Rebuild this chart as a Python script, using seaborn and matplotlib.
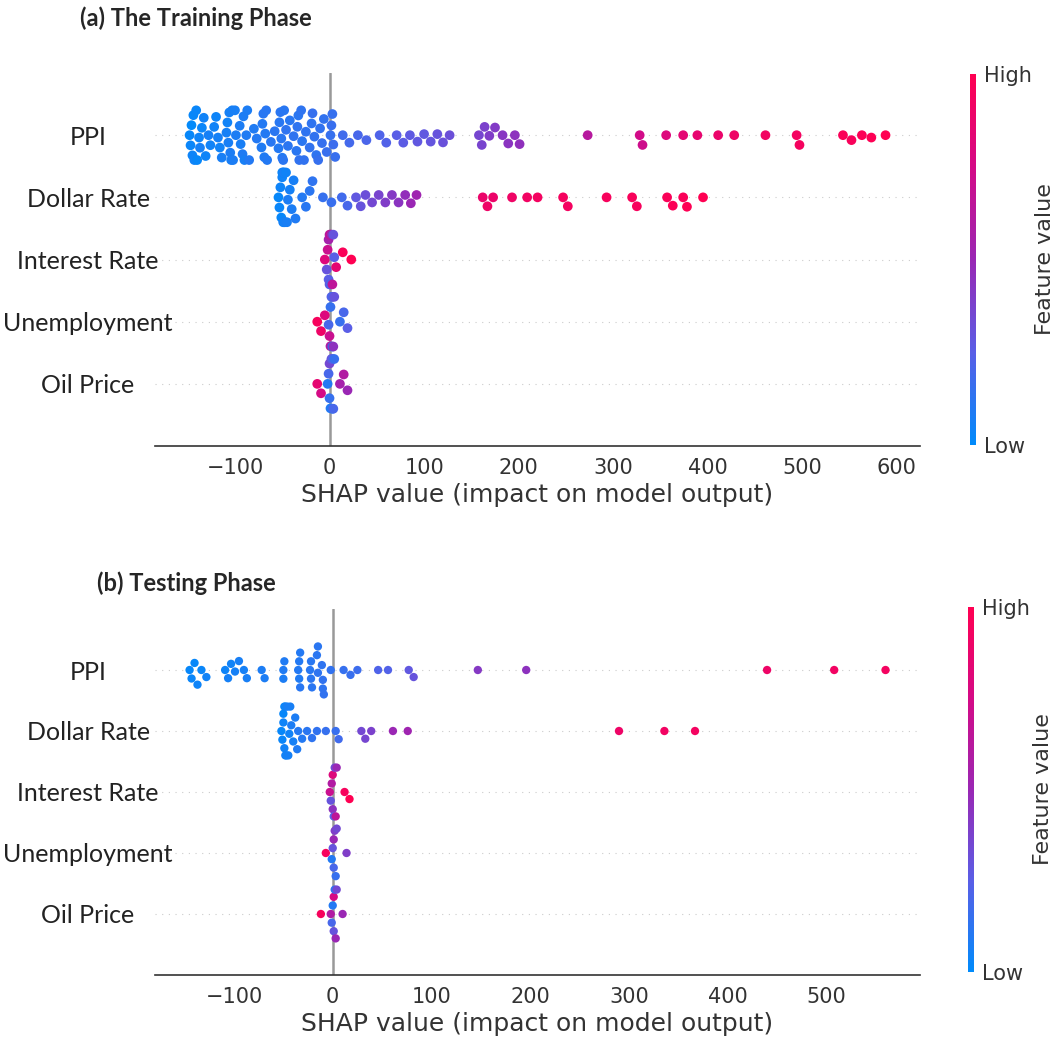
import numpy as np
import pandas as pd
import matplotlib
matplotlib.use("Agg")
import matplotlib.pyplot as plt
import seaborn as sns
from matplotlib.colors import LinearSegmentedColormap, Normalize
from matplotlib.cm import ScalarMappable
import warnings
warnings.filterwarnings('ignore')

features = ["PPI", "Dollar Rate", "Interest Rate", "Unemployment", "Oil Price"]

# ---- training phase: SHAP values and scaled feature values (0 = low, 1 = high)
train_ppi_shap = [-148, -147, -146, -145, -144, -143, -141, -140, -138, -137, -135, -133, -131, -128, -126,
                  -122, -120, -118, -116, -114, -109, -108, -107, -106, -105, -104, -103, -102, -100, -99,
                  -95, -94, -92, -91, -90, -88, -87, -85, -80, -77, -72, -71, -70, -69, -68,
                  -67, -66, -62, -58, -54, -53, -52, -51, -50, -49, -48, -46, -44, -42, -38,
                  -35, -34, -33, -32, -30, -29, -27, -25, -21, -19, -18, -16, -14, -12, -10,
                  -8, -6, -3, 1, 2, 3, 4, 6, 14, 21, 30, 39, 53, 60, 71,
                  78, 85, 93, 100, 107, 114, 120, 127, 158, 161, 164, 169, 175, 183, 189,
                  196, 201, 273, 328, 331, 356, 374, 389, 411, 428, 461, 494, 497, 543, 552,
                  563, 573, 588]
train_ppi_feat = [0.02, 0.03, 0.01, 0.04, 0.02, 0.05, 0.03, 0.02, 0.04, 0.06, 0.03, 0.05, 0.04, 0.06, 0.05,
                  0.05, 0.04, 0.06, 0.05, 0.07, 0.06, 0.05, 0.07, 0.06, 0.08, 0.07, 0.06, 0.08, 0.07, 0.08,
                  0.08, 0.07, 0.09, 0.08, 0.07, 0.09, 0.08, 0.10, 0.09, 0.10, 0.09, 0.10, 0.11, 0.09, 0.10,
                  0.11, 0.10, 0.11, 0.12, 0.10, 0.11, 0.12, 0.11, 0.10, 0.12, 0.11, 0.13, 0.12, 0.11, 0.13,
                  0.12, 0.13, 0.12, 0.14, 0.13, 0.12, 0.14, 0.13, 0.14, 0.13, 0.15, 0.14, 0.13, 0.15, 0.14,
                  0.15, 0.14, 0.16, 0.15, 0.16, 0.15, 0.17, 0.16, 0.18, 0.19, 0.20, 0.21, 0.22, 0.23, 0.25,
                  0.26, 0.27, 0.28, 0.28, 0.29, 0.30, 0.31, 0.32, 0.36, 0.37, 0.38, 0.40, 0.41, 0.43, 0.44,
                  0.45, 0.46, 0.62, 0.74, 0.72, 0.80, 0.84, 0.86, 0.88, 0.90, 0.92, 0.93, 0.94, 0.97, 0.96,
                  0.98, 0.99, 1.00]

train_dollar_shap = [-54, -53, -52, -51, -50, -50, -49, -49, -48, -48, -47, -46, -45, -44, -42, -40, -38, -36,
                     -29, -25, -21, -18, -7, 2, 13, 19,
                     28, 33, 38, 45, 52, 59, 66, 73, 80, 86, 92,
                     162, 167, 173, 193, 209, 220, 247, 252, 293, 320, 325, 357, 363, 374, 378, 395]
train_dollar_feat = [0.02, 0.03, 0.04, 0.02, 0.05, 0.03, 0.06, 0.04, 0.05, 0.07, 0.06, 0.05, 0.07, 0.08, 0.06, 0.08, 0.07, 0.09,
                     0.10, 0.11, 0.12, 0.13, 0.15, 0.16, 0.18, 0.20,
                     0.28, 0.30, 0.32, 0.35, 0.37, 0.40, 0.42, 0.44, 0.47, 0.50, 0.52,
                     0.88, 0.90, 0.89, 0.91, 0.92, 0.93, 0.94, 0.93, 0.95, 0.96, 0.95, 0.97, 0.98, 0.97, 0.99, 1.00]

train_interest_shap = [-5, -3, -2, -1, -1, 0, 0, 1, 1, 2, 3, 4, 5, 7, 14, 23]
train_interest_feat = [0.80, 0.30, 0.70, 0.55, 0.25, 0.60, 0.30, 0.75, 0.20, 0.50, 0.65, 0.30, 0.25, 0.85,
                       0.97, 1.00]

train_unemp_shap = [-13, -9, -5, -1, 0, 1, 1, 2, 3, 3, 4, 5, 11, 15, 19]
train_unemp_feat = [0.95, 0.90, 0.80, 0.20, 0.70, 0.15, 0.60, 0.25, 0.10, 0.20, 0.45, 0.30, 0.15, 0.20, 0.25]

train_oil_shap = [-13, -9, -2, -1, 0, 0, 1, 2, 3, 3, 4, 5, 11, 15, 19]
train_oil_feat = [0.85, 0.75, 0.10, 0.20, 0.15, 0.35, 0.10, 0.30, 0.10, 0.25, 0.20, 0.15, 0.55, 0.60, 0.50]

# ---- testing phase
test_ppi_shap = [-145, -143, -140, -137, -133, -128, -109, -106, -103, -99, -95, -90, -87, -72, -69,
                 -50, -50, -49, -35, -34, -34, -33, -33, -23, -22, -22, -21, -16, -15, -15,
                 -11, -10, -10, -9, -2, 11, 18, 25, 46, 56, 77, 82, 147, 196, 440,
                 508, 560]
test_ppi_feat = [0.02, 0.03, 0.02, 0.04, 0.03, 0.05, 0.04, 0.06, 0.05, 0.06, 0.07, 0.06, 0.07, 0.08, 0.08,
                 0.09, 0.08, 0.09, 0.10, 0.09, 0.10, 0.11, 0.10, 0.11, 0.12, 0.11, 0.12, 0.12, 0.13, 0.12,
                 0.13, 0.14, 0.13, 0.14, 0.14, 0.15, 0.16, 0.17, 0.22, 0.23, 0.28, 0.30, 0.42, 0.45, 0.90,
                 0.92, 0.93]

test_dollar_shap = [-52, -51, -50, -50, -49, -49, -48, -48, -47, -46, -45, -44, -43, -42, -40, -38, -36, -35,
                    -31, -26, -21, -16, -7, 3, 6,
                    29, 33, 39, 61, 76,
                    290, 336, 367]
test_dollar_feat = [0.02, 0.03, 0.04, 0.02, 0.05, 0.03, 0.06, 0.04, 0.05, 0.07, 0.06, 0.05, 0.07, 0.08, 0.06, 0.08, 0.09, 0.10,
                    0.10, 0.12, 0.13, 0.14, 0.15, 0.16, 0.18,
                    0.35, 0.36, 0.38, 0.50, 0.52,
                    0.90, 0.92, 0.93]

test_interest_shap = [-3, -2, -1, 0, 0, 1, 2, 3, 4, 12, 17]
test_interest_feat = [0.70, 0.30, 0.60, 0.45, 0.80, 0.25, 0.35, 0.65, 0.50, 0.95, 1.00]

test_unemp_shap = [-7, -1, 0, 1, 1, 2, 3, 4, 14]
test_unemp_feat = [0.95, 0.10, 0.30, 0.50, 0.20, 0.40, 0.15, 0.35, 0.40]

test_oil_shap = [-12, -2, -1, 0, 1, 1, 2, 3, 4, 10]
test_oil_feat = [0.95, 0.60, 0.20, 0.10, 0.75, 0.30, 0.15, 0.50, 0.35, 0.50]

# shap-like red/blue colormap
cmap = LinearSegmentedColormap.from_list(
    "shap_red_blue", ["#008bfb", "#5a5ee6", "#9a27b4", "#d40a86", "#ff0052"])


def make_frame(pairs):
    rows = []
    for name, (s, v) in zip(features, pairs):
        rows.append(pd.DataFrame({"shap": s, "value": v, "feature": name}))
    return pd.concat(rows, ignore_index=True)


train_df = make_frame([(train_ppi_shap, train_ppi_feat), (train_dollar_shap, train_dollar_feat),
                       (train_interest_shap, train_interest_feat), (train_unemp_shap, train_unemp_feat),
                       (train_oil_shap, train_oil_feat)])
test_df = make_frame([(test_ppi_shap, test_ppi_feat), (test_dollar_shap, test_dollar_feat),
                      (test_interest_shap, test_interest_feat), (test_unemp_shap, test_unemp_feat),
                      (test_oil_shap, test_oil_feat)])

sns.set_style("white")
plt.rcParams["font.family"] = ["DejaVu Sans"]
fig = plt.figure(figsize=(10.53, 10.52), dpi=100)

ax1 = fig.add_axes([0.147, 0.576, 0.727, 0.3546])
ax2 = fig.add_axes([0.147, 0.0732, 0.727, 0.3479])
cax1 = fig.add_axes([0.921, 0.577, 0.0057, 0.3527])
cax2 = fig.add_axes([0.919, 0.076, 0.0057, 0.347])


def draw_panel(ax, cax, df, dot, ticks):
    sns.swarmplot(data=df, x="shap", y="feature", hue="value", order=features,
                  palette=cmap, hue_norm=(0, 1), size=dot, linewidth=0,
                  legend=False, orient="h", ax=ax, zorder=3)
    for i in range(len(features)):
        ax.axhline(i, color="#cccccc", lw=0.8, dashes=(1, 5), zorder=-1)
    ax.axvline(0, color="#999999", lw=1.8, zorder=-1)
    ax.set_ylim(len(features), -1)
    ax.set_xticks(ticks)
    ax.set_ylabel("")
    ax.set_xlabel("SHAP value (impact on model output)", fontsize=18, color="#333333")
    for s in ["top", "right", "left"]:
        ax.spines[s].set_visible(False)
    ax.spines["bottom"].set_color("#333333")
    ax.spines["bottom"].set_linewidth(1.2)
    ax.tick_params(axis="x", labelsize=15, colors="#333333", length=5, width=1, direction="out")
    ax.tick_params(axis="y", length=0, pad=48)
    for lbl in ax.get_yticklabels():
        lbl.set_ha("center")
        lbl.set_fontfamily("Lato")
        lbl.set_fontsize(18)
        lbl.set_color("#222222")

    cb = fig.colorbar(ScalarMappable(norm=Normalize(0, 1), cmap=cmap), cax=cax, ticks=[0, 1])
    cb.set_ticklabels(["Low", "High"])
    cb.ax.tick_params(length=0, labelsize=15, colors="#333333", pad=6)
    cb.outline.set_visible(False)
    cb.set_label("Feature value", fontsize=16, color="#333333", labelpad=2)


draw_panel(ax1, cax1, train_df, 7.0, range(-100, 601, 100))
draw_panel(ax2, cax2, test_df, 6.0, range(-100, 501, 100))

fig.text(80 / 1053, 1 - 18 / 1052, "(a) The Training Phase", fontsize=17, fontweight="bold",
         family="Lato", va="center", ha="left")
fig.text(97 / 1053, 1 - 583 / 1052, "(b) Testing Phase", fontsize=17, fontweight="bold",
         family="Lato", va="center", ha="left")

fig.savefig("out.png", dpi=100)
